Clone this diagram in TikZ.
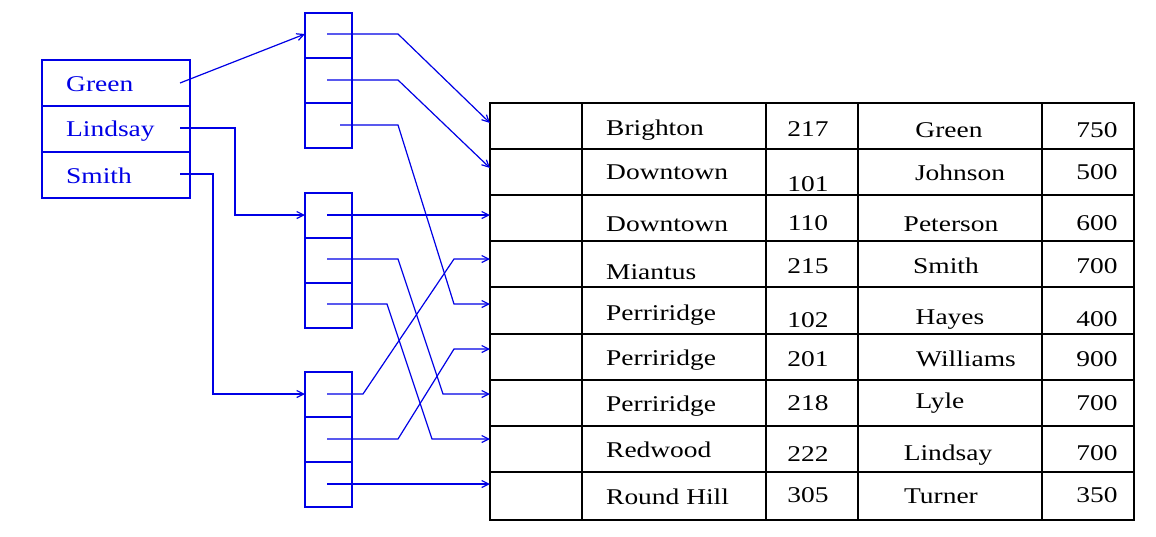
\documentclass[tikz,border=0pt]{standalone}
\usepackage{fontspec}
\setmainfont[FakeStretch=1.22]{Liberation Serif}
\usetikzlibrary{arrows.meta}
\begin{document}
\begin{tikzpicture}[x=1pt,y=-1pt,
  bl/.style={draw=blue!90!black,line width=1.2pt},
  ptr/.style={blue!90!black,line width=1.2pt,-{Straight Barb[length=7pt,width=7pt]}},
  bk/.style={draw=black,line width=1.3pt},
  tx/.style={font=\fontsize{22.5}{22.5}\selectfont,inner sep=0pt},
  lt/.style={tx,anchor=west},
  ct/.style={tx,anchor=center}]
\useasboundingbox (0,0) rectangle (1156,536);
% left index
\draw[bl] (42,60) rectangle (190,198) (42,106)--(190,106) (42,152)--(190,152);
\node[lt,text=blue!90!black] (lg) at (66,84) {Green};
\node[lt,text=blue!90!black] (ll) at (66,131) {Lindsay};
\node[lt,text=blue!90!black] (ls) at (66,176) {Smith};
% buckets
\foreach \b/\t in {1/13,2/193,3/372}{
  \draw[bl] (305,\t) rectangle (352,\t+135) (305,\t+45)--(352,\t+45) (305,\t+90)--(352,\t+90);
}
\coordinate (b1) at (305,34); \coordinate (b2) at (305,215); \coordinate (b3) at (305,394);
% main table
\draw[bk] (490,103) rectangle (1134,520);
\foreach \y in {149,195,241,287,334,380,426,472}{\draw[bk] (490,\y)--(1134,\y);}
\foreach \x in {582,766,858,1042}{\draw[bk] (\x,103)--(\x,520);}
\foreach \i/\y in {1/123,2/168,3/215,4/259,5/304,6/349,7/394,8/439,9/484}{\coordinate (r\i) at (490,\y);}
% index pointers
\draw[ptr] (180,83) -- (b1);
\draw[ptr] (180,128) -- (235,128) -- (235,215) -- (b2);
\draw[ptr] (180,174) -- (213,174) -- (213,394) -- (b3);
% bucket pointers
\draw[ptr] (327,34) -- (398,34) -- (r1);
\draw[ptr] (327,80) -- (398,80) -- (r2);
\draw[ptr] (340,125) -- (398,125) -- (454,304) -- (r5);
\draw[ptr] (327,215) -- (r3);
\draw[ptr] (327,259) -- (398,259) -- (443,394) -- (r7);
\draw[ptr] (327,304) -- (387,304) -- (432,439) -- (r8);
\draw[ptr] (327,394) -- (363,394) -- (454,259) -- (r4);
\draw[ptr] (327,439) -- (398,439) -- (454,349) -- (r6);
\draw[ptr] (327,484) -- (r9);
% texts
\node[lt] (t1a) at (606,130) {Brighton};  \node[ct] (t1b) at (808,129) {217}; \node[ct] (t1c) at (949,130) {Green};    \node[ct] (t1d) at (1097,130) {750};
\node[lt] (t2a) at (606,172) {Downtown};  \node[ct] (t2b) at (808,184) {101}; \node[ct] (t2c) at (960,173) {Johnson};  \node[ct] (t2d) at (1097,172) {500};
\node[lt] (t3a) at (606,224) {Downtown};  \node[ct] (t3b) at (808,223) {110}; \node[ct] (t3c) at (951,224) {Peterson}; \node[ct] (t3d) at (1097,223) {600};
\node[lt] (t4a) at (606,272) {Miantus};   \node[ct] (t4b) at (808,266) {215}; \node[ct] (t4c) at (946,266) {Smith};    \node[ct] (t4d) at (1097,266) {700};
\node[lt] (t5a) at (606,315) {Perriridge};\node[ct] (t5b) at (808,320) {102}; \node[ct] (t5c) at (950,320) {Hayes};    \node[ct] (t5d) at (1097,319) {400};
\node[lt] (t6a) at (606,360) {Perriridge};\node[ct] (t6b) at (808,359) {201}; \node[ct] (t6c) at (966,359) {Williams}; \node[ct] (t6d) at (1097,359) {900};
\node[lt] (t7a) at (606,406) {Perriridge};\node[ct] (t7b) at (808,403) {218}; \node[ct] (t7c) at (940,403) {Lyle};     \node[ct] (t7d) at (1097,403) {700};
\node[lt] (t8a) at (606,450) {Redwood};   \node[ct] (t8b) at (808,454) {222}; \node[ct] (t8c) at (948,455) {Lindsay};  \node[ct] (t8d) at (1097,453) {700};
\node[lt] (t9a) at (606,497) {Round Hill};\node[ct] (t9b) at (808,495) {305}; \node[ct] (t9c) at (941,496) {Turner};   \node[ct] (t9d) at (1097,495) {350};
\end{tikzpicture}
\end{document}
